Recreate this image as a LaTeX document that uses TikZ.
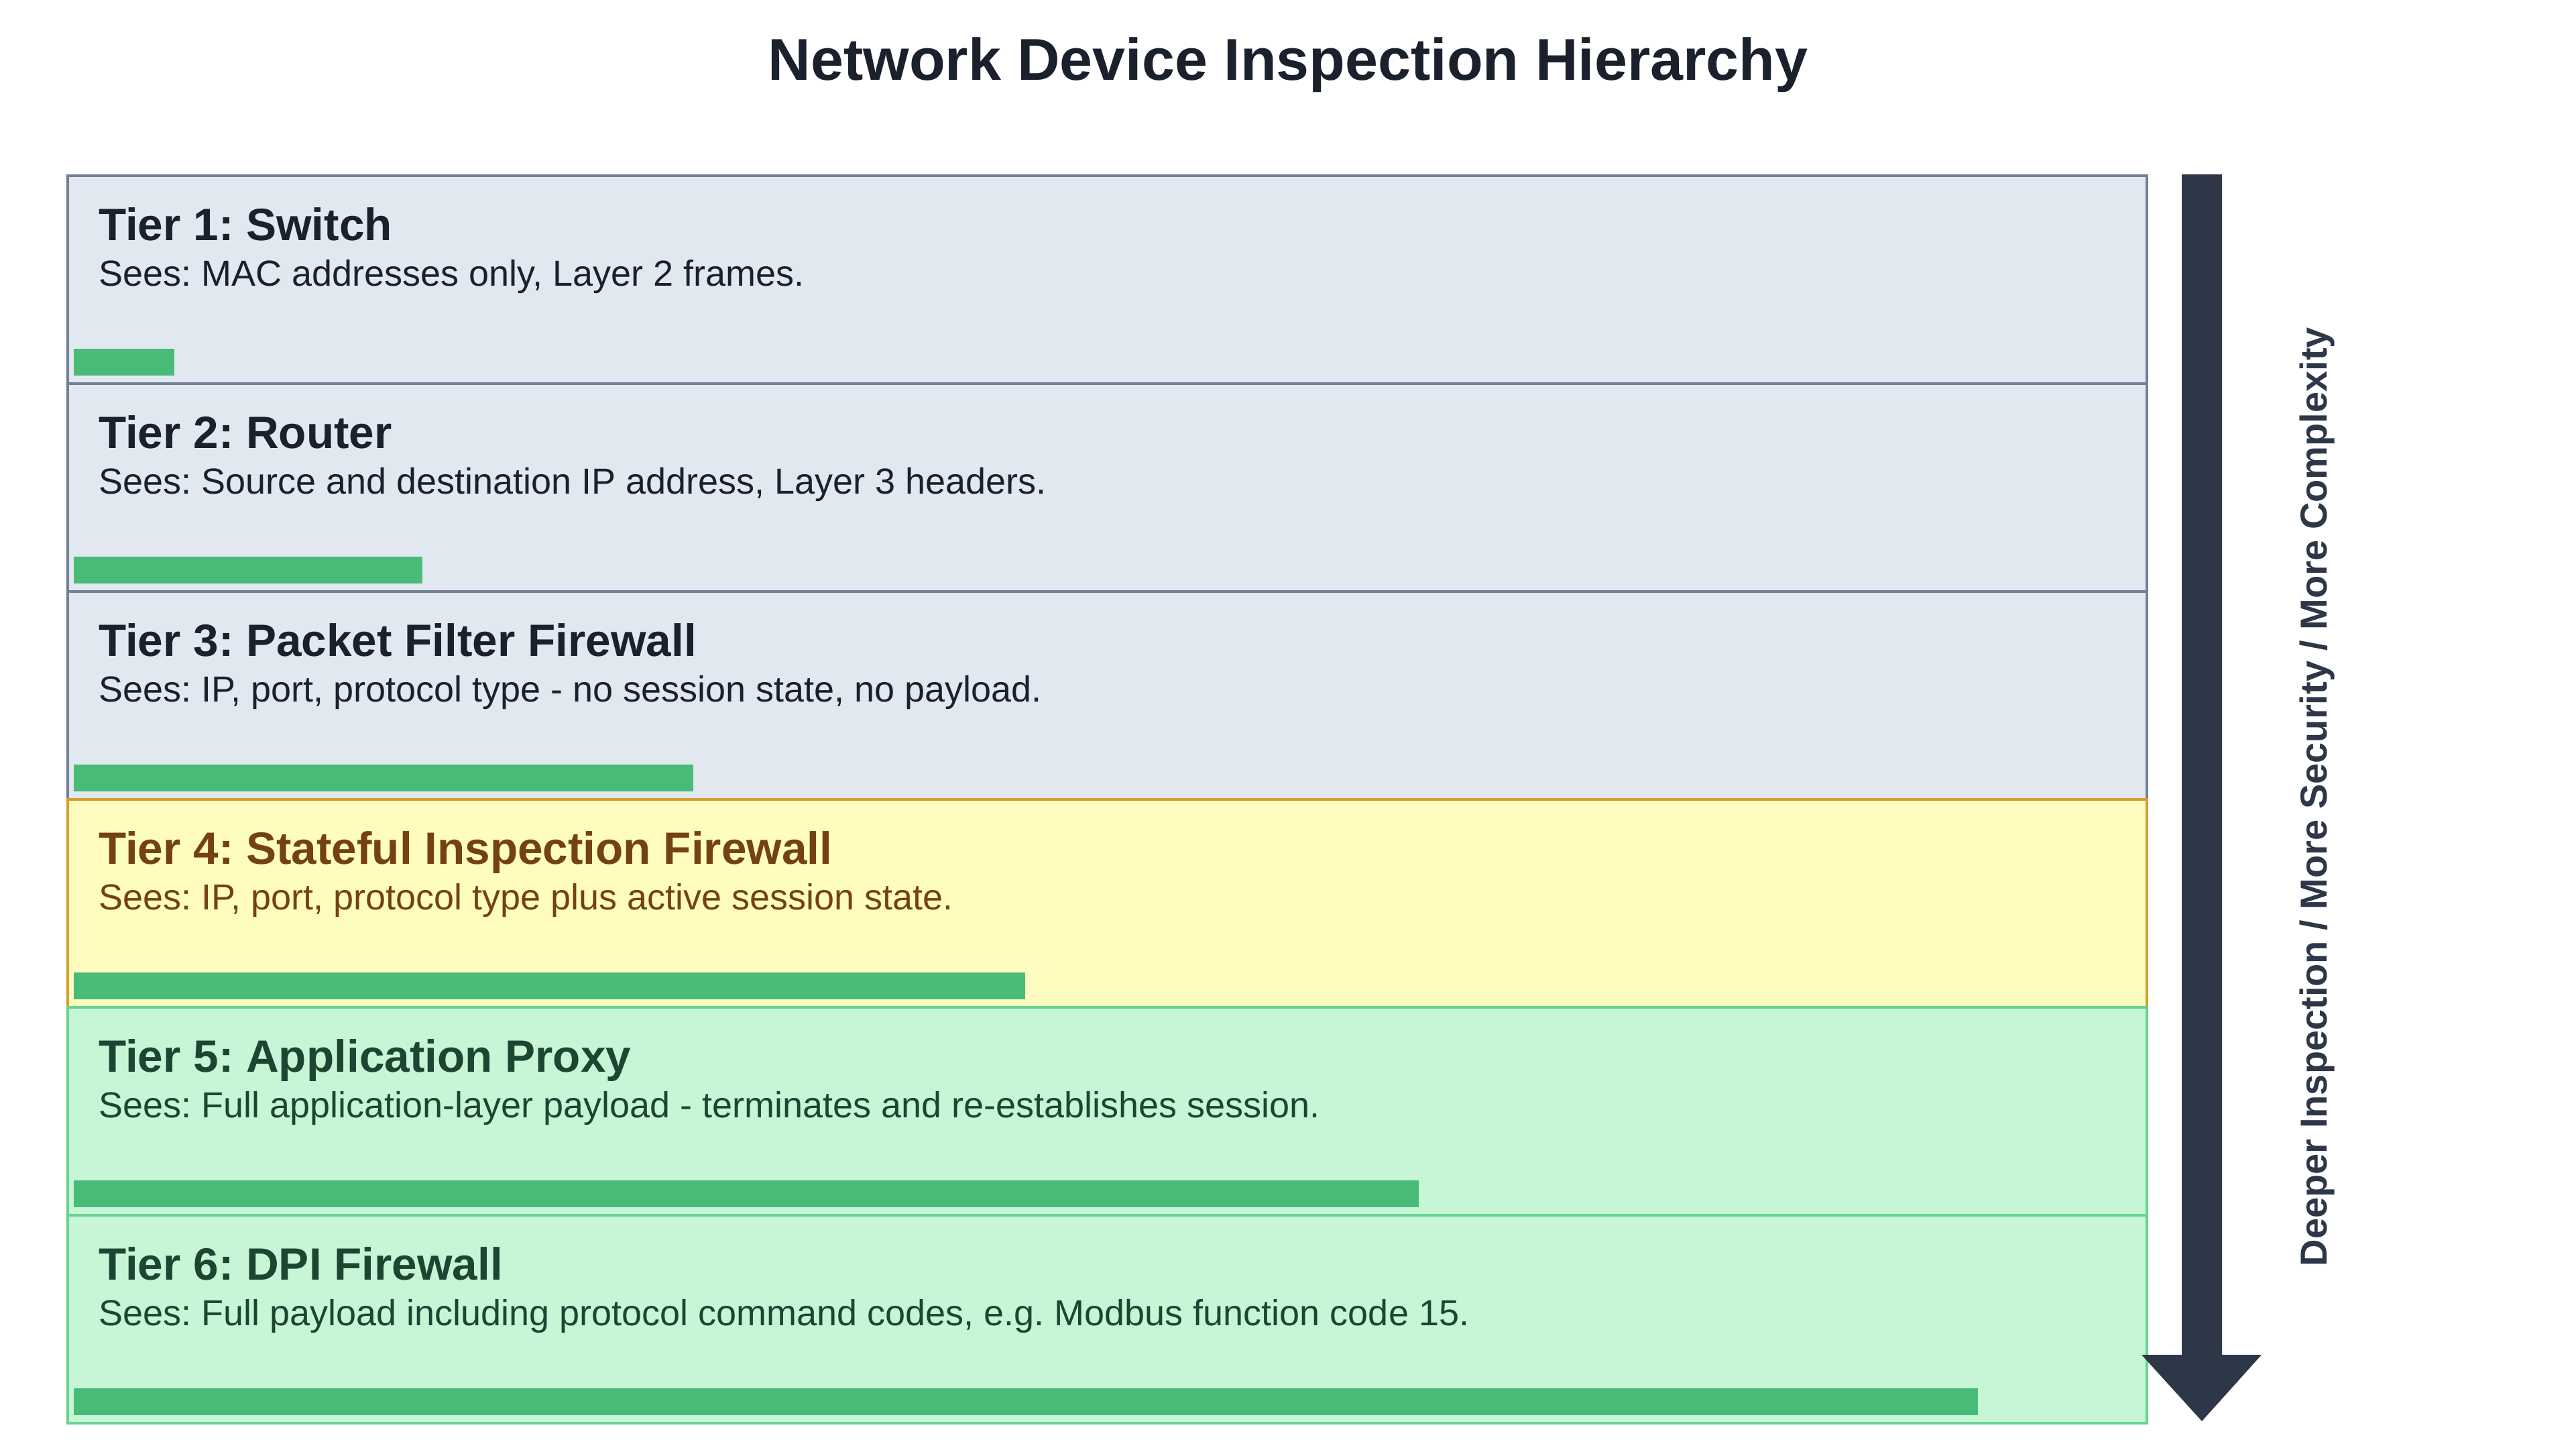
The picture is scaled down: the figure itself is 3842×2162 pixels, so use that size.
\documentclass[tikz,border=0pt]{standalone}
\usepackage{fontspec}
\setmainfont{Liberation Sans}
\frenchspacing
\definecolor{titlec}{HTML}{1A202C}
\definecolor{slatefill}{HTML}{E2E8F0}
\definecolor{slateline}{HTML}{718096}
\definecolor{yelfill}{HTML}{FEFCBF}
\definecolor{yelline}{HTML}{D69E2E}
\definecolor{yeltext}{HTML}{744210}
\definecolor{grnfill}{HTML}{C6F6D5}
\definecolor{grnline}{HTML}{68D391}
\definecolor{grntext}{HTML}{1C4532}
\definecolor{barc}{HTML}{48BB78}
\definecolor{arrowc}{HTML}{2D3748}
\tikzset{
  tierbox/.style={rectangle, inner sep=0pt, line width=3.5pt, minimum width=3101pt, minimum height=310pt, anchor=north west},
  greytier/.style={tierbox, fill=slatefill, draw=slateline},
  yeltier/.style={tierbox, fill=yelfill, draw=yelline},
  grntier/.style={tierbox, fill=grnfill, draw=grnline},
  barbox/.style={rectangle, inner sep=0pt, fill=barc, minimum height=40pt, anchor=south west},
  headtxt/.style={inner sep=0pt, anchor=base west, font=\fontsize{67.5}{80}\selectfont\bfseries},
  desctxt/.style={inner sep=0pt, anchor=base west, font=\fontsize{54}{64}\selectfont},
}
\begin{document}
\begin{tikzpicture}[x=1pt,y=-1pt]
\useasboundingbox[fill=white] (0,0) rectangle (3842,2162);
\node[inner sep=0pt, anchor=base, text=titlec, font=\fontsize{88}{100}\selectfont\bfseries] (title) at (1921,120) {Network Device Inspection Hierarchy};
% tiers
\node[greytier] (t1) at (99,260) {};
\node[greytier] (t2) at (99,570) {};
\node[greytier] (t3) at (99,880) {};
\node[yeltier] (t4) at (99,1190) {};
\node[grntier] (t5) at (99,1500) {};
\node[grntier] (t6) at (99,1810) {};
% bars
\node[barbox, minimum width=150pt] (b1) at (110,560) {};
\node[barbox, minimum width=520pt] (b2) at (110,870) {};
\node[barbox, minimum width=924pt] (b3) at (110,1180) {};
\node[barbox, minimum width=1419pt] (b4) at (110,1490) {};
\node[barbox, minimum width=2006pt] (b5) at (110,1800) {};
\node[barbox, minimum width=2840pt] (b6) at (110,2110) {};
% texts
\node[headtxt, text=titlec] (h1) at (147,358) {Tier 1: Switch};
\node[desctxt, text=titlec] (d1) at (147,426) {Sees: MAC addresses only, Layer 2 frames.};
\node[headtxt, text=titlec] (h2) at (147,668) {Tier 2: Router};
\node[desctxt, text=titlec] (d2) at (147,736) {Sees: Source and destination IP address, Layer 3 headers.};
\node[headtxt, text=titlec] (h3) at (147,978) {Tier 3: Packet Filter Firewall};
\node[desctxt, text=titlec] (d3) at (147,1046) {Sees: IP, port, protocol type - no session state, no payload.};
\node[headtxt, text=yeltext] (h4) at (147,1288) {Tier 4: Stateful Inspection Firewall};
\node[desctxt, text=yeltext] (d4) at (147,1356) {Sees: IP, port, protocol type plus active session state.};
\node[headtxt, text=grntext] (h5) at (147,1598) {Tier 5: Application Proxy};
\node[desctxt, text=grntext] (d5) at (147,1666) {Sees: Full application-layer payload - terminates and re-establishes session.};
\node[headtxt, text=grntext] (h6) at (147,1908) {Tier 6: DPI Firewall};
\node[desctxt, text=grntext] (d6) at (147,1976) {Sees: Full payload including protocol command codes, e.g. Modbus function code 15.};
% arrow
\fill[arrowc] (3254,260) -- (3314,260) -- (3314,2020) -- (3373,2020) -- (3284,2119) -- (3194,2020) -- (3254,2020) -- cycle;
\node[inner sep=0pt, anchor=base, rotate=90, text=arrowc, font=\fontsize{56}{68}\selectfont\bfseries] (lab) at (3470,1188) {Deeper Inspection / More Security / More Complexity};
\end{tikzpicture}
\end{document}
